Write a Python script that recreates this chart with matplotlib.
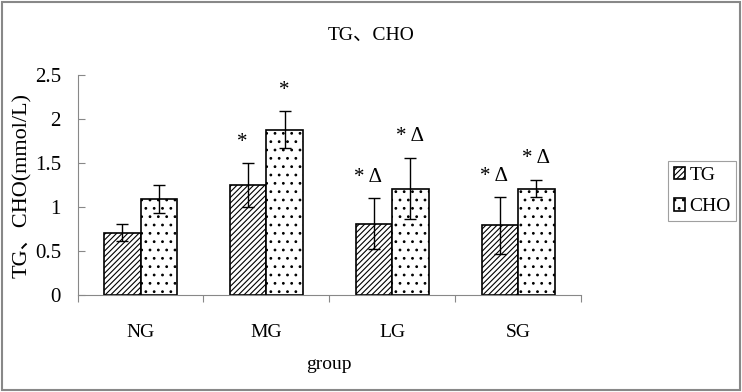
import numpy as np
import matplotlib
matplotlib.use('Agg')
import matplotlib.pyplot as plt
from matplotlib.patches import Rectangle

plt.rcParams['font.family'] = ['Liberation Serif', 'Noto Sans CJK SC']
plt.rcParams['hatch.linewidth'] = 0.8

groups = ['NG', 'MG', 'LG', 'SG']
tg = [0.71, 1.25, 0.81, 0.79]
tg_err = [0.10, 0.25, 0.29, 0.32]
cho = [1.09, 1.88, 1.21, 1.21]
cho_err = [0.155, 0.21, 0.35, 0.10]
tg_marks = ['', '*', '* Δ', '* Δ']
cho_marks = ['', '*', '* Δ', '* Δ']

fig = plt.figure(figsize=(7.42, 3.92), dpi=100)
ax = fig.add_axes([0.1046, 0.2474, 0.6784, 0.5613])

x = np.arange(len(groups))
w = 0.29
ax.bar(x - w / 2, tg, w, color='white', edgecolor='black', linewidth=1.2,
       hatch='//////', label='TG')
ax.bar(x + w / 2, cho, w, color='white', edgecolor='black', linewidth=1.2,
       hatch='..', label='CHO')
ax.errorbar(x - w / 2, tg, yerr=tg_err, fmt='none', ecolor='black',
            elinewidth=1, capsize=4, capthick=1)
ax.errorbar(x + w / 2, cho, yerr=cho_err, fmt='none', ecolor='black',
            elinewidth=1, capsize=4, capthick=1)

# significance marks above the error bars
for i in range(len(groups)):
    if tg_marks[i]:
        ax.annotate(tg_marks[i], (x[i] - w / 2, tg[i] + tg_err[i]),
                    xytext=(-4, 15), textcoords='offset points',
                    ha='center', va='center', fontsize=15)
    if cho_marks[i]:
        ax.annotate(cho_marks[i], (x[i] + w / 2, cho[i] + cho_err[i]),
                    xytext=(0, 15), textcoords='offset points',
                    ha='center', va='center', fontsize=15)

ax.set_xlim(-0.5, len(groups) - 0.5)
ax.set_ylim(0, 2.5)
ax.set_yticks([0, 0.5, 1, 1.5, 2, 2.5])
ax.set_yticklabels(['0', '0.5', '1', '1.5', '2', '2.5'], fontsize=15)
ax.set_xticks(np.arange(-0.5, len(groups), 1.0))
ax.set_xticklabels([])
ax.set_xticks(x, minor=True)
ax.set_xticklabels(groups, minor=True, fontsize=14)
ax.tick_params(axis='x', which='major', direction='out', length=5, color='#888888')
ax.tick_params(axis='x', which='minor', length=0, pad=21)
ax.tick_params(axis='y', direction='in', length=5, color='#888888', pad=12)
for s in ['top', 'right']:
    ax.spines[s].set_visible(False)
for s in ['left', 'bottom']:
    ax.spines[s].set_color('#888888')

ax.set_xlabel('group', fontsize=14, labelpad=11)
ax.set_ylabel('TG、CHO(mmol/L)', fontsize=16, labelpad=2)
fig.text(0.5, 0.91, 'TG、CHO', ha='center', va='center', fontsize=14)

leg = ax.legend(loc='center left', bbox_to_anchor=(0.9, 0.513),
                bbox_transform=fig.transFigure, fontsize=14, frameon=True,
                fancybox=False, edgecolor='#888888', handlelength=0.6,
                handleheight=0.6, handletextpad=0.2, borderpad=0.3,
                labelspacing=0.75, borderaxespad=0)
leg.get_frame().set_linewidth(0.8)

fig.patches.append(Rectangle((0.003, 0.005), 0.994, 0.99, transform=fig.transFigure,
                             fill=False, edgecolor='#888888', linewidth=1.5))

fig.savefig('out.png', dpi=100)
